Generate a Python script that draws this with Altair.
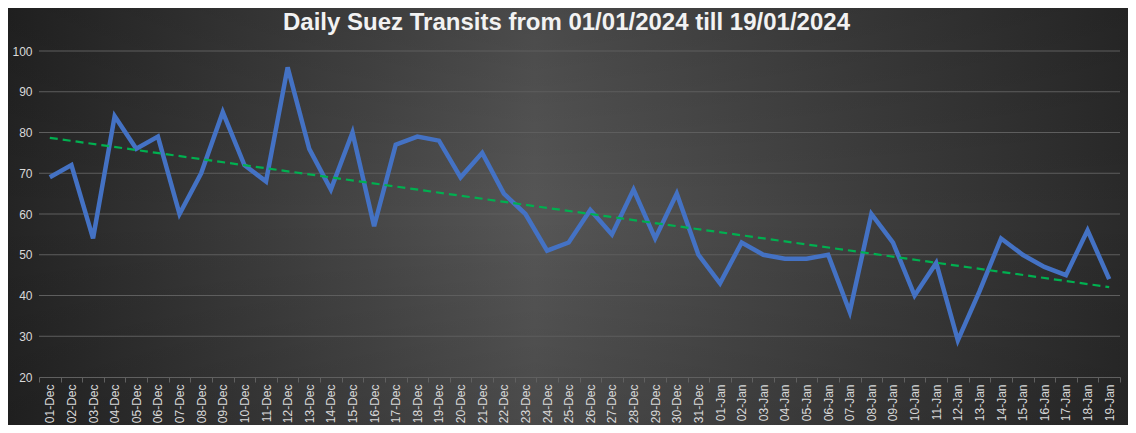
import altair as alt
import pandas as pd

days = ["01-Dec","02-Dec","03-Dec","04-Dec","05-Dec","06-Dec","07-Dec","08-Dec","09-Dec","10-Dec",
        "11-Dec","12-Dec","13-Dec","14-Dec","15-Dec","16-Dec","17-Dec","18-Dec","19-Dec","20-Dec",
        "21-Dec","22-Dec","23-Dec","24-Dec","25-Dec","26-Dec","27-Dec","28-Dec","29-Dec","30-Dec",
        "31-Dec","01-Jan","02-Jan","03-Jan","04-Jan","05-Jan","06-Jan","07-Jan","08-Jan","09-Jan",
        "10-Jan","11-Jan","12-Jan","13-Jan","14-Jan","15-Jan","16-Jan","17-Jan","18-Jan","19-Jan"]
transits = [69, 72, 54, 84, 76, 79, 60, 70, 85, 72,
            68, 96, 76, 66, 80, 57, 77, 79, 78, 69,
            75, 65, 60, 51, 53, 61, 55, 66, 54, 65,
            50, 43, 53, 50, 49, 49, 50, 36, 60, 53,
            40, 48, 29, 41, 54, 50, 47, 45, 56, 44]
y_ticks = [20, 30, 40, 50, 60, 70, 80, 90, 100]

df = pd.DataFrame({"day": days, "value": transits})
grid_df = pd.DataFrame({"value": y_ticks[1:]})

W, H = 1081, 326
PL, PT, PR, PB = 31, 43, 8, 48
FONT = "Liberation Sans"
LABEL = "#d9d9d9"
YSCALE = alt.Scale(domain=[20, 100], nice=False, zero=False)
YAXIS = alt.Axis(title=None, values=y_ticks, labelFontSize=12, labelColor=LABEL,
                 labelFont=FONT, ticks=False, domain=False, labelPadding=7,
                 grid=False, zindex=1)

bg_data = pd.DataFrame({"k": [0]})
bg_h = alt.Chart(bg_data).mark_rect(
    fill=alt.Gradient(gradient="linear", x1=0, y1=0, x2=1, y2=0,
                      stops=[alt.GradientStop(offset=0, color="#242424"),
                             alt.GradientStop(offset=0.47, color="#565656"),
                             alt.GradientStop(offset=1, color="#2a2a2a")])
).encode(x=alt.value(-PL), x2=alt.value(W + PR), y=alt.value(-PT), y2=alt.value(H + PB))
bg_v = alt.Chart(bg_data).mark_rect(
    fill=alt.Gradient(gradient="linear", x1=0, y1=0, x2=0, y2=1,
                      stops=[alt.GradientStop(offset=0, color="rgba(0,0,0,0.14)"),
                             alt.GradientStop(offset=0.5, color="rgba(0,0,0,0)"),
                             alt.GradientStop(offset=1, color="rgba(0,0,0,0.14)")])
).encode(x=alt.value(-PL), x2=alt.value(W + PR), y=alt.value(-PT), y2=alt.value(H + PB))

grid = alt.Chart(grid_df).mark_rule(color="#5e5e5e", strokeWidth=1).encode(
    y=alt.Y("value:Q", scale=YSCALE, axis=YAXIS),
    x=alt.value(0), x2=alt.value(W),
)

base = alt.Chart(df)

line = base.mark_line(color="#4472C4", strokeWidth=4.5, strokeJoin="miter").encode(
    x=alt.X("day:O", sort=days,
            scale=alt.Scale(paddingInner=0, paddingOuter=0),
            axis=alt.Axis(title=None, labelAngle=270, labelFontSize=12, labelColor=LABEL,
                          labelFont=FONT, tickBand="extent", ticks=True, tickSize=5,
                          tickColor="#606060", domainColor="#606060", labelPadding=2,
                          grid=False, zindex=1)),
    y=alt.Y("value:Q", scale=YSCALE, axis=YAXIS),
)

trend = base.transform_window(
    rn="row_number()"
).transform_calculate(
    idx="datum.rn - 1"
).transform_regression("idx", "value").mark_line(
    color="#00B050", strokeWidth=2.2, strokeDash=[8, 5]
).encode(
    x=alt.X("idx:Q", scale=alt.Scale(domain=[-0.5, 49.5], nice=False, zero=False), axis=None),
    y=alt.Y("value:Q", scale=YSCALE, axis=YAXIS),
)

chart = alt.layer(bg_h, bg_v, grid, line, trend).resolve_scale(x="independent").properties(
    width=W, height=H,
    padding={"left": PL, "top": PT, "right": PR, "bottom": PB},
    autosize=alt.AutoSizeParams(type="none"),
    background="#3a3a3a",
    title=alt.TitleParams("Daily Suez Transits from 01/01/2024 till 19/01/2024",
                          font=FONT, fontSize=24, fontWeight="bold", color="#f2f2f2",
                          anchor="middle", offset=-27, dx=-13),
).configure_view(stroke=None)

chart.save("out.html", embed_options={"renderer": "svg", "actions": False})
